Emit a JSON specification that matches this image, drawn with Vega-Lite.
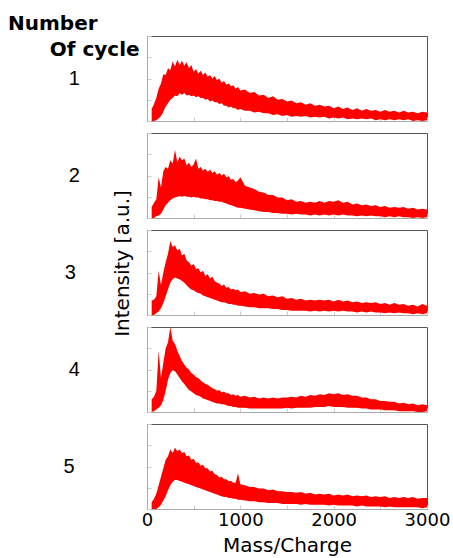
{
"$schema": "https://vega.github.io/schema/vega-lite/v6.json",
"padding": {"left": 8, "top": 14, "right": 0, "bottom": 0},
"title": {"text": ["Number", "\u200b\u00a0\u00a0\u00a0\u00a0\u00a0\u00a0Of cycle"], "anchor": "start", "frame": "group", "dx": -139, "offset": -25, "font": "DejaVu Sans", "fontSize": 20, "fontWeight": "bold", "lineHeight": 26, "color": "#000"},
"config": {
  "view": {"stroke": "#555", "strokeWidth": 1},
  "axis": {"grid": false, "domainColor": "#aaa", "tickColor": "#ccc", "labelFont": "DejaVu Sans", "titleFont": "DejaVu Sans", "labelColor": "#000", "titleColor": "#000", "titleFontWeight": "normal"}
},
"datasets": {"d": [
{"c":1,"m":50,"lo":0,"hi":14},{"c":1,"m":75,"lo":0,"hi":20},{"c":1,"m":100,"lo":1,"hi":27},{"c":1,"m":125,"lo":3,"hi":38},{"c":1,"m":150,"lo":6,"hi":44},{"c":1,"m":175,"lo":11,"hi":55},{"c":1,"m":200,"lo":17,"hi":54},{"c":1,"m":225,"lo":21,"hi":62},{"c":1,"m":250,"lo":25,"hi":60},{"c":1,"m":275,"lo":27,"hi":70},{"c":1,"m":300,"lo":30,"hi":64},{"c":1,"m":325,"lo":29,"hi":72},{"c":1,"m":350,"lo":33,"hi":66},{"c":1,"m":375,"lo":31,"hi":71},{"c":1,"m":400,"lo":33,"hi":65},{"c":1,"m":425,"lo":30,"hi":69},{"c":1,"m":450,"lo":31,"hi":62},{"c":1,"m":475,"lo":29,"hi":66},{"c":1,"m":500,"lo":30,"hi":58},{"c":1,"m":525,"lo":28,"hi":61},{"c":1,"m":550,"lo":29,"hi":56},{"c":1,"m":575,"lo":27,"hi":59},{"c":1,"m":600,"lo":27,"hi":54},{"c":1,"m":625,"lo":25,"hi":57},{"c":1,"m":650,"lo":26,"hi":52},{"c":1,"m":675,"lo":23,"hi":54},{"c":1,"m":700,"lo":24,"hi":50},{"c":1,"m":725,"lo":22,"hi":53},{"c":1,"m":750,"lo":22,"hi":48},{"c":1,"m":775,"lo":20,"hi":50},{"c":1,"m":800,"lo":21,"hi":45},{"c":1,"m":825,"lo":18,"hi":47},{"c":1,"m":850,"lo":18,"hi":43},{"c":1,"m":875,"lo":16,"hi":44},{"c":1,"m":900,"lo":17,"hi":41},{"c":1,"m":925,"lo":15,"hi":42},{"c":1,"m":950,"lo":15,"hi":38},{"c":1,"m":975,"lo":13,"hi":40},{"c":1,"m":1000,"lo":14,"hi":36},{"c":1,"m":1050,"lo":12,"hi":37},{"c":1,"m":1100,"lo":12,"hi":33},{"c":1,"m":1150,"lo":10,"hi":34},{"c":1,"m":1200,"lo":11,"hi":30},{"c":1,"m":1250,"lo":9,"hi":31},{"c":1,"m":1300,"lo":9,"hi":27},{"c":1,"m":1350,"lo":7,"hi":29},{"c":1,"m":1400,"lo":8,"hi":25},{"c":1,"m":1450,"lo":6,"hi":26},{"c":1,"m":1500,"lo":7,"hi":23},{"c":1,"m":1550,"lo":5,"hi":24},{"c":1,"m":1600,"lo":6,"hi":21},{"c":1,"m":1650,"lo":5,"hi":22},{"c":1,"m":1700,"lo":6,"hi":19},{"c":1,"m":1750,"lo":4,"hi":21},{"c":1,"m":1800,"lo":5,"hi":18},{"c":1,"m":1850,"lo":4,"hi":19},{"c":1,"m":1900,"lo":5,"hi":17},{"c":1,"m":1950,"lo":3,"hi":18},{"c":1,"m":2000,"lo":4,"hi":15},{"c":1,"m":2050,"lo":3,"hi":17},{"c":1,"m":2100,"lo":4,"hi":14},{"c":1,"m":2150,"lo":2,"hi":16},{"c":1,"m":2200,"lo":3,"hi":13},{"c":1,"m":2250,"lo":2,"hi":15},{"c":1,"m":2300,"lo":3,"hi":12},{"c":1,"m":2350,"lo":2,"hi":14},{"c":1,"m":2400,"lo":3,"hi":12},{"c":1,"m":2450,"lo":1,"hi":13},{"c":1,"m":2500,"lo":2,"hi":11},{"c":1,"m":2550,"lo":1,"hi":13},{"c":1,"m":2600,"lo":2,"hi":11},{"c":1,"m":2650,"lo":1,"hi":12},{"c":1,"m":2700,"lo":2,"hi":10},{"c":1,"m":2750,"lo":1,"hi":12},{"c":1,"m":2800,"lo":2,"hi":10},{"c":1,"m":2850,"lo":0,"hi":11},{"c":1,"m":2900,"lo":1,"hi":9},{"c":1,"m":2950,"lo":0,"hi":11},{"c":1,"m":3000,"lo":1,"hi":10},
{"c":2,"m":50,"lo":0,"hi":13},{"c":2,"m":75,"lo":0,"hi":18},{"c":2,"m":100,"lo":2,"hi":22},{"c":2,"m":125,"lo":3,"hi":48},{"c":2,"m":150,"lo":5,"hi":36},{"c":2,"m":175,"lo":10,"hi":55},{"c":2,"m":200,"lo":15,"hi":60},{"c":2,"m":225,"lo":18,"hi":58},{"c":2,"m":250,"lo":21,"hi":68},{"c":2,"m":275,"lo":23,"hi":64},{"c":2,"m":300,"lo":24,"hi":80},{"c":2,"m":325,"lo":25,"hi":66},{"c":2,"m":350,"lo":26,"hi":72},{"c":2,"m":375,"lo":25,"hi":68},{"c":2,"m":400,"lo":26,"hi":70},{"c":2,"m":425,"lo":25,"hi":62},{"c":2,"m":450,"lo":25,"hi":65},{"c":2,"m":475,"lo":24,"hi":60},{"c":2,"m":500,"lo":25,"hi":63},{"c":2,"m":525,"lo":24,"hi":70},{"c":2,"m":550,"lo":24,"hi":58},{"c":2,"m":575,"lo":23,"hi":60},{"c":2,"m":600,"lo":23,"hi":56},{"c":2,"m":625,"lo":22,"hi":58},{"c":2,"m":650,"lo":22,"hi":54},{"c":2,"m":675,"lo":21,"hi":57},{"c":2,"m":700,"lo":21,"hi":53},{"c":2,"m":725,"lo":20,"hi":55},{"c":2,"m":750,"lo":20,"hi":51},{"c":2,"m":775,"lo":19,"hi":53},{"c":2,"m":800,"lo":19,"hi":50},{"c":2,"m":825,"lo":18,"hi":52},{"c":2,"m":850,"lo":17,"hi":48},{"c":2,"m":875,"lo":16,"hi":49},{"c":2,"m":900,"lo":15,"hi":45},{"c":2,"m":925,"lo":14,"hi":46},{"c":2,"m":950,"lo":13,"hi":42},{"c":2,"m":975,"lo":12,"hi":44},{"c":2,"m":1000,"lo":12,"hi":48},{"c":2,"m":1050,"lo":11,"hi":38},{"c":2,"m":1100,"lo":10,"hi":36},{"c":2,"m":1150,"lo":9,"hi":34},{"c":2,"m":1200,"lo":8,"hi":31},{"c":2,"m":1250,"lo":7,"hi":30},{"c":2,"m":1300,"lo":7,"hi":27},{"c":2,"m":1350,"lo":6,"hi":27},{"c":2,"m":1400,"lo":6,"hi":24},{"c":2,"m":1450,"lo":5,"hi":24},{"c":2,"m":1500,"lo":5,"hi":21},{"c":2,"m":1550,"lo":4,"hi":22},{"c":2,"m":1600,"lo":5,"hi":19},{"c":2,"m":1650,"lo":4,"hi":20},{"c":2,"m":1700,"lo":4,"hi":18},{"c":2,"m":1750,"lo":3,"hi":19},{"c":2,"m":1800,"lo":4,"hi":18},{"c":2,"m":1850,"lo":3,"hi":20},{"c":2,"m":1900,"lo":4,"hi":18},{"c":2,"m":1950,"lo":3,"hi":20},{"c":2,"m":2000,"lo":4,"hi":19},{"c":2,"m":2050,"lo":3,"hi":21},{"c":2,"m":2100,"lo":4,"hi":18},{"c":2,"m":2150,"lo":3,"hi":19},{"c":2,"m":2200,"lo":3,"hi":16},{"c":2,"m":2250,"lo":2,"hi":17},{"c":2,"m":2300,"lo":3,"hi":15},{"c":2,"m":2350,"lo":2,"hi":16},{"c":2,"m":2400,"lo":3,"hi":14},{"c":2,"m":2450,"lo":2,"hi":15},{"c":2,"m":2500,"lo":2,"hi":13},{"c":2,"m":2550,"lo":1,"hi":14},{"c":2,"m":2600,"lo":2,"hi":12},{"c":2,"m":2650,"lo":1,"hi":13},{"c":2,"m":2700,"lo":2,"hi":12},{"c":2,"m":2750,"lo":1,"hi":13},{"c":2,"m":2800,"lo":1,"hi":11},{"c":2,"m":2850,"lo":0,"hi":12},{"c":2,"m":2900,"lo":1,"hi":10},{"c":2,"m":2950,"lo":0,"hi":11},{"c":2,"m":3000,"lo":1,"hi":10},
{"c":3,"m":50,"lo":0,"hi":17},{"c":3,"m":75,"lo":0,"hi":18},{"c":3,"m":100,"lo":2,"hi":22},{"c":3,"m":125,"lo":4,"hi":52},{"c":3,"m":150,"lo":8,"hi":35},{"c":3,"m":175,"lo":14,"hi":50},{"c":3,"m":200,"lo":22,"hi":62},{"c":3,"m":225,"lo":30,"hi":72},{"c":3,"m":250,"lo":38,"hi":87},{"c":3,"m":275,"lo":42,"hi":80},{"c":3,"m":300,"lo":44,"hi":82},{"c":3,"m":325,"lo":43,"hi":76},{"c":3,"m":350,"lo":42,"hi":78},{"c":3,"m":375,"lo":40,"hi":70},{"c":3,"m":400,"lo":38,"hi":72},{"c":3,"m":425,"lo":35,"hi":64},{"c":3,"m":450,"lo":32,"hi":62},{"c":3,"m":475,"lo":30,"hi":58},{"c":3,"m":500,"lo":29,"hi":60},{"c":3,"m":525,"lo":27,"hi":54},{"c":3,"m":550,"lo":26,"hi":55},{"c":3,"m":575,"lo":25,"hi":50},{"c":3,"m":600,"lo":23,"hi":52},{"c":3,"m":625,"lo":22,"hi":46},{"c":3,"m":650,"lo":21,"hi":48},{"c":3,"m":675,"lo":20,"hi":43},{"c":3,"m":700,"lo":19,"hi":45},{"c":3,"m":725,"lo":18,"hi":40},{"c":3,"m":750,"lo":17,"hi":38},{"c":3,"m":775,"lo":16,"hi":37},{"c":3,"m":800,"lo":15,"hi":34},{"c":3,"m":825,"lo":15,"hi":36},{"c":3,"m":850,"lo":14,"hi":32},{"c":3,"m":875,"lo":13,"hi":33},{"c":3,"m":900,"lo":13,"hi":30},{"c":3,"m":925,"lo":12,"hi":31},{"c":3,"m":950,"lo":12,"hi":29},{"c":3,"m":975,"lo":11,"hi":30},{"c":3,"m":1000,"lo":11,"hi":27},{"c":3,"m":1050,"lo":10,"hi":28},{"c":3,"m":1100,"lo":9,"hi":25},{"c":3,"m":1150,"lo":9,"hi":26},{"c":3,"m":1200,"lo":8,"hi":24},{"c":3,"m":1250,"lo":8,"hi":25},{"c":3,"m":1300,"lo":8,"hi":22},{"c":3,"m":1350,"lo":7,"hi":23},{"c":3,"m":1400,"lo":7,"hi":21},{"c":3,"m":1450,"lo":6,"hi":22},{"c":3,"m":1500,"lo":6,"hi":19},{"c":3,"m":1550,"lo":5,"hi":20},{"c":3,"m":1600,"lo":5,"hi":18},{"c":3,"m":1650,"lo":5,"hi":19},{"c":3,"m":1700,"lo":5,"hi":17},{"c":3,"m":1750,"lo":4,"hi":18},{"c":3,"m":1800,"lo":5,"hi":17},{"c":3,"m":1850,"lo":4,"hi":18},{"c":3,"m":1900,"lo":5,"hi":17},{"c":3,"m":1950,"lo":4,"hi":18},{"c":3,"m":2000,"lo":5,"hi":16},{"c":3,"m":2050,"lo":4,"hi":18},{"c":3,"m":2100,"lo":5,"hi":16},{"c":3,"m":2150,"lo":4,"hi":17},{"c":3,"m":2200,"lo":4,"hi":15},{"c":3,"m":2250,"lo":3,"hi":16},{"c":3,"m":2300,"lo":4,"hi":14},{"c":3,"m":2350,"lo":3,"hi":15},{"c":3,"m":2400,"lo":4,"hi":14},{"c":3,"m":2450,"lo":3,"hi":15},{"c":3,"m":2500,"lo":3,"hi":13},{"c":3,"m":2550,"lo":2,"hi":14},{"c":3,"m":2600,"lo":3,"hi":12},{"c":3,"m":2650,"lo":2,"hi":14},{"c":3,"m":2700,"lo":3,"hi":12},{"c":3,"m":2750,"lo":2,"hi":13},{"c":3,"m":2800,"lo":2,"hi":11},{"c":3,"m":2850,"lo":1,"hi":12},{"c":3,"m":2900,"lo":2,"hi":10},{"c":3,"m":2950,"lo":1,"hi":13},{"c":3,"m":3000,"lo":2,"hi":11},
{"c":4,"m":50,"lo":0,"hi":15},{"c":4,"m":75,"lo":1,"hi":18},{"c":4,"m":100,"lo":3,"hi":25},{"c":4,"m":125,"lo":5,"hi":72},{"c":4,"m":150,"lo":8,"hi":40},{"c":4,"m":175,"lo":14,"hi":58},{"c":4,"m":200,"lo":25,"hi":75},{"c":4,"m":225,"lo":38,"hi":82},{"c":4,"m":250,"lo":46,"hi":100},{"c":4,"m":275,"lo":49,"hi":84},{"c":4,"m":300,"lo":48,"hi":80},{"c":4,"m":325,"lo":44,"hi":72},{"c":4,"m":350,"lo":40,"hi":66},{"c":4,"m":375,"lo":36,"hi":60},{"c":4,"m":400,"lo":33,"hi":56},{"c":4,"m":425,"lo":29,"hi":52},{"c":4,"m":450,"lo":26,"hi":50},{"c":4,"m":475,"lo":24,"hi":46},{"c":4,"m":500,"lo":22,"hi":44},{"c":4,"m":525,"lo":20,"hi":41},{"c":4,"m":550,"lo":19,"hi":40},{"c":4,"m":575,"lo":18,"hi":37},{"c":4,"m":600,"lo":16,"hi":35},{"c":4,"m":625,"lo":15,"hi":33},{"c":4,"m":650,"lo":14,"hi":32},{"c":4,"m":675,"lo":13,"hi":30},{"c":4,"m":700,"lo":12,"hi":28},{"c":4,"m":725,"lo":11,"hi":27},{"c":4,"m":750,"lo":10,"hi":25},{"c":4,"m":775,"lo":10,"hi":26},{"c":4,"m":800,"lo":9,"hi":23},{"c":4,"m":825,"lo":9,"hi":24},{"c":4,"m":850,"lo":8,"hi":22},{"c":4,"m":875,"lo":7,"hi":22},{"c":4,"m":900,"lo":7,"hi":20},{"c":4,"m":925,"lo":6,"hi":21},{"c":4,"m":950,"lo":6,"hi":19},{"c":4,"m":975,"lo":5,"hi":20},{"c":4,"m":1000,"lo":5,"hi":18},{"c":4,"m":1050,"lo":5,"hi":19},{"c":4,"m":1100,"lo":4,"hi":17},{"c":4,"m":1150,"lo":4,"hi":18},{"c":4,"m":1200,"lo":4,"hi":16},{"c":4,"m":1250,"lo":4,"hi":17},{"c":4,"m":1300,"lo":4,"hi":16},{"c":4,"m":1350,"lo":4,"hi":17},{"c":4,"m":1400,"lo":4,"hi":16},{"c":4,"m":1450,"lo":4,"hi":17},{"c":4,"m":1500,"lo":5,"hi":17},{"c":4,"m":1550,"lo":4,"hi":18},{"c":4,"m":1600,"lo":5,"hi":17},{"c":4,"m":1650,"lo":5,"hi":19},{"c":4,"m":1700,"lo":5,"hi":18},{"c":4,"m":1750,"lo":5,"hi":20},{"c":4,"m":1800,"lo":6,"hi":19},{"c":4,"m":1850,"lo":6,"hi":21},{"c":4,"m":1900,"lo":6,"hi":20},{"c":4,"m":1950,"lo":7,"hi":22},{"c":4,"m":2000,"lo":6,"hi":21},{"c":4,"m":2050,"lo":6,"hi":22},{"c":4,"m":2100,"lo":6,"hi":20},{"c":4,"m":2150,"lo":5,"hi":21},{"c":4,"m":2200,"lo":5,"hi":19},{"c":4,"m":2250,"lo":5,"hi":19},{"c":4,"m":2300,"lo":4,"hi":17},{"c":4,"m":2350,"lo":4,"hi":17},{"c":4,"m":2400,"lo":3,"hi":15},{"c":4,"m":2450,"lo":3,"hi":15},{"c":4,"m":2500,"lo":3,"hi":13},{"c":4,"m":2550,"lo":2,"hi":13},{"c":4,"m":2600,"lo":2,"hi":12},{"c":4,"m":2650,"lo":2,"hi":12},{"c":4,"m":2700,"lo":1,"hi":10},{"c":4,"m":2750,"lo":1,"hi":11},{"c":4,"m":2800,"lo":1,"hi":9},{"c":4,"m":2850,"lo":1,"hi":10},{"c":4,"m":2900,"lo":0,"hi":8},{"c":4,"m":2950,"lo":0,"hi":9},{"c":4,"m":3000,"lo":1,"hi":8},
{"c":5,"m":50,"lo":0,"hi":8},{"c":5,"m":75,"lo":0,"hi":12},{"c":5,"m":100,"lo":0,"hi":18},{"c":5,"m":125,"lo":2,"hi":28},{"c":5,"m":150,"lo":5,"hi":38},{"c":5,"m":175,"lo":10,"hi":48},{"c":5,"m":200,"lo":15,"hi":58},{"c":5,"m":225,"lo":22,"hi":62},{"c":5,"m":250,"lo":28,"hi":70},{"c":5,"m":275,"lo":32,"hi":66},{"c":5,"m":300,"lo":34,"hi":72},{"c":5,"m":325,"lo":34,"hi":68},{"c":5,"m":350,"lo":33,"hi":70},{"c":5,"m":375,"lo":32,"hi":66},{"c":5,"m":400,"lo":31,"hi":67},{"c":5,"m":425,"lo":30,"hi":62},{"c":5,"m":450,"lo":29,"hi":63},{"c":5,"m":475,"lo":28,"hi":58},{"c":5,"m":500,"lo":27,"hi":59},{"c":5,"m":525,"lo":26,"hi":54},{"c":5,"m":550,"lo":25,"hi":55},{"c":5,"m":575,"lo":24,"hi":51},{"c":5,"m":600,"lo":23,"hi":52},{"c":5,"m":625,"lo":22,"hi":48},{"c":5,"m":650,"lo":21,"hi":48},{"c":5,"m":675,"lo":20,"hi":44},{"c":5,"m":700,"lo":19,"hi":45},{"c":5,"m":725,"lo":18,"hi":41},{"c":5,"m":750,"lo":17,"hi":40},{"c":5,"m":775,"lo":16,"hi":37},{"c":5,"m":800,"lo":15,"hi":38},{"c":5,"m":825,"lo":14,"hi":35},{"c":5,"m":850,"lo":14,"hi":35},{"c":5,"m":875,"lo":13,"hi":33},{"c":5,"m":900,"lo":13,"hi":33},{"c":5,"m":925,"lo":12,"hi":31},{"c":5,"m":950,"lo":12,"hi":31},{"c":5,"m":975,"lo":11,"hi":42},{"c":5,"m":1000,"lo":11,"hi":29},{"c":5,"m":1050,"lo":10,"hi":28},{"c":5,"m":1100,"lo":9,"hi":26},{"c":5,"m":1150,"lo":9,"hi":26},{"c":5,"m":1200,"lo":8,"hi":24},{"c":5,"m":1250,"lo":8,"hi":24},{"c":5,"m":1300,"lo":7,"hi":22},{"c":5,"m":1350,"lo":7,"hi":23},{"c":5,"m":1400,"lo":7,"hi":21},{"c":5,"m":1450,"lo":6,"hi":21},{"c":5,"m":1500,"lo":6,"hi":20},{"c":5,"m":1550,"lo":6,"hi":20},{"c":5,"m":1600,"lo":6,"hi":19},{"c":5,"m":1650,"lo":5,"hi":20},{"c":5,"m":1700,"lo":6,"hi":18},{"c":5,"m":1750,"lo":5,"hi":19},{"c":5,"m":1800,"lo":5,"hi":17},{"c":5,"m":1850,"lo":5,"hi":18},{"c":5,"m":1900,"lo":5,"hi":17},{"c":5,"m":1950,"lo":4,"hi":18},{"c":5,"m":2000,"lo":5,"hi":16},{"c":5,"m":2050,"lo":4,"hi":17},{"c":5,"m":2100,"lo":4,"hi":16},{"c":5,"m":2150,"lo":4,"hi":17},{"c":5,"m":2200,"lo":4,"hi":15},{"c":5,"m":2250,"lo":3,"hi":16},{"c":5,"m":2300,"lo":4,"hi":15},{"c":5,"m":2350,"lo":3,"hi":16},{"c":5,"m":2400,"lo":3,"hi":14},{"c":5,"m":2450,"lo":3,"hi":15},{"c":5,"m":2500,"lo":3,"hi":14},{"c":5,"m":2550,"lo":2,"hi":15},{"c":5,"m":2600,"lo":3,"hi":13},{"c":5,"m":2650,"lo":2,"hi":14},{"c":5,"m":2700,"lo":2,"hi":13},{"c":5,"m":2750,"lo":2,"hi":14},{"c":5,"m":2800,"lo":2,"hi":13},{"c":5,"m":2850,"lo":2,"hi":14},{"c":5,"m":2900,"lo":2,"hi":12},{"c":5,"m":2950,"lo":1,"hi":13},{"c":5,"m":3000,"lo":2,"hi":13}
]},
"data": {"name": "d"},
"spacing": 12,
"bounds": "flush",
"vconcat": [
 {"width": 280, "height": 85, "transform": [{"filter": "datum.c == 1"}],
  "title": {"text": "1", "orient": "left", "angle": 0, "align": "center", "baseline": "middle", "offset": 61, "font": "Liberation Sans", "fontSize": 20, "fontWeight": "normal", "color": "#000"},
  "mark": {"type": "area", "color": "#ff0000", "clip": true},
  "encoding": {
   "x": {"field": "m", "type": "quantitative", "scale": {"domain": [0, 3000]}, "axis": {"title": null, "labels": false, "values": [0,500,1000,1500,2000,2500,3000], "tickSize": -4}},
   "y": {"field": "hi", "type": "quantitative", "scale": {"domain": [0, 100]}, "axis": {"title": null, "labels": false, "values": [0,25,50,75,100], "tickSize": -4}},
   "y2": {"field": "lo"}}},
 {"width": 280, "height": 85, "transform": [{"filter": "datum.c == 2"}],
  "title": {"text": "2", "orient": "left", "angle": 0, "align": "center", "baseline": "middle", "offset": 61, "font": "Liberation Sans", "fontSize": 20, "fontWeight": "normal", "color": "#000"},
  "mark": {"type": "area", "color": "#ff0000", "clip": true},
  "encoding": {
   "x": {"field": "m", "type": "quantitative", "scale": {"domain": [0, 3000]}, "axis": {"title": null, "labels": false, "values": [0,500,1000,1500,2000,2500,3000], "tickSize": -4}},
   "y": {"field": "hi", "type": "quantitative", "scale": {"domain": [0, 100]}, "axis": {"title": null, "labels": false, "values": [0,25,50,75,100], "tickSize": -4}},
   "y2": {"field": "lo"}}},
 {"width": 280, "height": 85, "transform": [{"filter": "datum.c == 3"}],
  "title": {"text": "3", "orient": "left", "angle": 0, "align": "center", "baseline": "middle", "offset": 31, "font": "Liberation Sans", "fontSize": 20, "fontWeight": "normal", "color": "#000"},
  "mark": {"type": "area", "color": "#ff0000", "clip": true},
  "encoding": {
   "x": {"field": "m", "type": "quantitative", "scale": {"domain": [0, 3000]}, "axis": {"title": null, "labels": false, "values": [0,500,1000,1500,2000,2500,3000], "tickSize": -4}},
   "y": {"field": "hi", "type": "quantitative", "scale": {"domain": [0, 100]}, "axis": {"title": "Intensity [a.u.]", "titleFontSize": 20, "titleY": 33, "titlePadding": 14, "labels": false, "values": [0,25,50,75,100], "tickSize": -4}},
   "y2": {"field": "lo"}}},
 {"width": 280, "height": 85, "transform": [{"filter": "datum.c == 4"}],
  "title": {"text": "4", "orient": "left", "angle": 0, "align": "center", "baseline": "middle", "offset": 61, "font": "Liberation Sans", "fontSize": 20, "fontWeight": "normal", "color": "#000"},
  "mark": {"type": "area", "color": "#ff0000", "clip": true},
  "encoding": {
   "x": {"field": "m", "type": "quantitative", "scale": {"domain": [0, 3000]}, "axis": {"title": null, "labels": false, "values": [0,500,1000,1500,2000,2500,3000], "tickSize": -4}},
   "y": {"field": "hi", "type": "quantitative", "scale": {"domain": [0, 100]}, "axis": {"title": null, "labels": false, "values": [0,25,50,75,100], "tickSize": -4}},
   "y2": {"field": "lo"}}},
 {"width": 280, "height": 85, "transform": [{"filter": "datum.c == 5"}],
  "title": {"text": "5", "orient": "left", "angle": 0, "align": "center", "baseline": "middle", "offset": 61, "font": "Liberation Sans", "fontSize": 20, "fontWeight": "normal", "color": "#000"},
  "mark": {"type": "area", "color": "#ff0000", "clip": true},
  "encoding": {
   "x": {"field": "m", "type": "quantitative", "scale": {"domain": [0, 3000]}, "axis": {"title": "Mass/Charge", "titleFontSize": 20, "titlePadding": 6, "labelFontSize": 18, "labelPadding": 6, "labelFlush": false, "labelExpr": "datum.value % 1000 === 0 ? datum.label : ''", "format": "d", "values": [0,500,1000,1500,2000,2500,3000], "tickSize": -4}},
   "y": {"field": "hi", "type": "quantitative", "scale": {"domain": [0, 100]}, "axis": {"title": null, "labels": false, "values": [0,25,50,75,100], "tickSize": -4}},
   "y2": {"field": "lo"}}}
]
}
